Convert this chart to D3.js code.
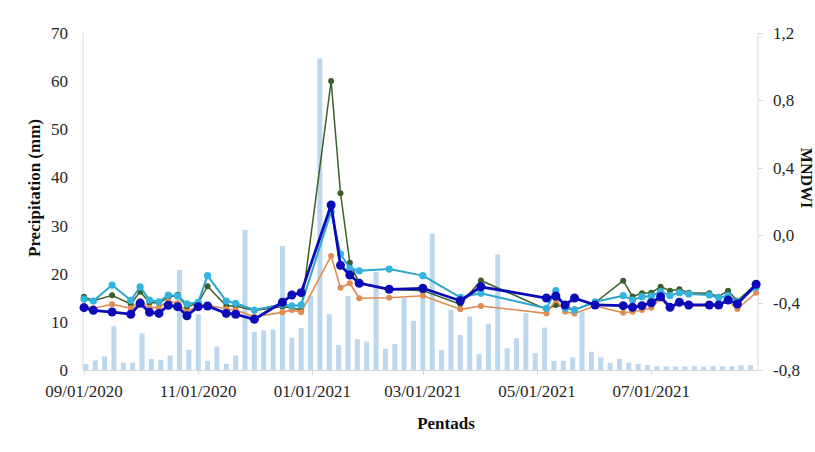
<!DOCTYPE html>
<html><head><meta charset="utf-8">
<script src="https://cdn.jsdelivr.net/npm/d3@7"></script>
<style>
html,body{margin:0;padding:0;background:#fff;overflow:hidden}
text{font-family:"Liberation Serif","Times New Roman",serif}
</style></head>
<body><svg id="c" width="815" height="452"></svg>
<script>
// ---- data ----
const precip = [1.3,2.0,2.8,9.1,1.5,1.5,7.6,2.3,2.1,3.0,20.8,4.2,11.6,1.9,4.9,1.3,3.0,29.1,7.9,8.2,8.4,25.8,6.7,8.7,
  15.4,64.7,11.6,5.2,15.4,6.4,5.9,20.4,4.4,5.4,15.0,10.2,17.0,28.3,4.2,12.5,7.3,11.1,3.3,9.6,24.0,4.5,6.6,11.8,
  3.5,8.8,1.9,1.9,2.6,12.0,3.8,2.6,1.5,2.3,1.5,1.3,1.0,0.8,0.7,0.7,0.7,0.8,0.7,0.8,0.8,0.8,1.0,1.0];
const pentadStart = "2020-09-01";
const lineDates = ["2020-09-01","2020-09-06","2020-09-16","2020-09-26","2020-10-01","2020-10-06","2020-10-11","2020-10-16","2020-10-21","2020-10-26",
  "2020-11-01","2020-11-06","2020-11-16","2020-11-21","2020-12-01","2020-12-16","2020-12-21","2020-12-26",
  "2021-01-11","2021-01-16","2021-01-21","2021-01-26","2021-02-11","2021-03-01","2021-03-21","2021-04-01",
  "2021-05-06","2021-05-11","2021-05-16","2021-05-21","2021-06-01","2021-06-16","2021-06-21","2021-06-26",
  "2021-07-01","2021-07-06","2021-07-11","2021-07-16","2021-07-21","2021-08-01","2021-08-06","2021-08-11","2021-08-16","2021-08-26"];
const seriesGreen = [-0.365,-0.389,-0.357,-0.408,-0.335,-0.399,-0.402,-0.370,-0.353,-0.426,
  -0.402,-0.303,-0.420,-0.420,-0.447,-0.423,-0.432,-0.444,
  0.915,0.249,-0.163,-0.285,-0.321,-0.329,-0.410,-0.269,
  -0.440,-0.414,-0.426,-0.440,-0.401,-0.270,-0.364,-0.345,
  -0.341,-0.306,-0.329,-0.321,-0.341,-0.345,-0.365,-0.329,-0.389,-0.290];
const seriesOrange = [-0.418,-0.434,-0.410,-0.434,-0.391,-0.430,-0.430,-0.391,-0.404,-0.454,
  -0.418,-0.414,-0.438,-0.444,-0.484,-0.458,-0.444,-0.458,
  -0.123,-0.312,-0.285,-0.374,-0.371,-0.359,-0.440,-0.420,
  -0.464,-0.385,-0.454,-0.464,-0.420,-0.460,-0.454,-0.444,
  -0.430,-0.375,-0.435,-0.405,-0.420,-0.420,-0.420,-0.390,-0.438,-0.341];
const seriesCyan = [-0.379,-0.391,-0.296,-0.386,-0.307,-0.385,-0.395,-0.355,-0.361,-0.408,
  -0.398,-0.240,-0.391,-0.404,-0.444,-0.410,-0.420,-0.414,
  0.139,-0.112,-0.196,-0.211,-0.201,-0.240,-0.369,-0.345,
  -0.434,-0.329,-0.434,-0.444,-0.395,-0.359,-0.385,-0.365,
  -0.361,-0.335,-0.359,-0.341,-0.349,-0.355,-0.371,-0.359,-0.395,-0.309];
const seriesBlue = [-0.430,-0.446,-0.456,-0.469,-0.404,-0.458,-0.464,-0.416,-0.424,-0.478,
  -0.424,-0.420,-0.464,-0.469,-0.499,-0.398,-0.355,-0.341,
  0.179,-0.179,-0.236,-0.285,-0.321,-0.315,-0.389,-0.306,
  -0.373,-0.361,-0.414,-0.373,-0.414,-0.418,-0.428,-0.418,
  -0.401,-0.365,-0.428,-0.398,-0.414,-0.414,-0.414,-0.385,-0.408,-0.291];
const xTickDates = ["2020-09-01","2020-11-01","2021-01-01","2021-03-01","2021-05-01","2021-07-01"];
const xTickLabels = ["09/01/2020","11/01/2020","01/01/2021","03/01/2021","05/01/2021","07/01/2021"];
const leftTicks = [0,10,20,30,40,50,60,70];
const rightTicks = [-0.8,-0.4,0,0.4,0.8,1.2];

// ---- chart ----
const parse = d3.timeParse("%Y-%m-%d");
const svg = d3.select("#c");
const L = 83, R = 758, T = 33, B = 370;
const x = d3.scaleTime().domain([parse("2020-09-01"), parse("2021-08-27")]).range([84, R]);
const yL = d3.scaleLinear().domain([0,70]).range([B,T]);
const yR = d3.scaleLinear().domain([-0.8,1.2]).range([B,T]);
const axisCol = "#d9d9d9", txtCol = "#262626";

// bars
const p0 = parse(pentadStart);
const pentads = precip.map((v,i)=>({d:d3.timeDay.offset(p0,5*i), v}));
svg.append("g").selectAll("rect").data(pentads).join("rect")
  .attr("x", d=>x(d3.timeDay.offset(d.d,1)) - 2.5)
  .attr("width", 5)
  .attr("y", d=>yL(d.v))
  .attr("height", d=>B - yL(d.v))
  .attr("fill", "#bdd7ee");

// axes lines
svg.append("line").attr("x1",L).attr("x2",L).attr("y1",T).attr("y2",B).attr("stroke",axisCol);
svg.append("line").attr("x1",R).attr("x2",R).attr("y1",T).attr("y2",B).attr("stroke",axisCol);
svg.append("line").attr("x1",L).attr("x2",R+4).attr("y1",B+0.5).attr("y2",B+0.5).attr("stroke",axisCol);

// bottom ticks
const xt = xTickDates.map(parse);
svg.append("g").selectAll("line").data(xt).join("line")
  .attr("x1",d=>Math.round(x(d))+0.5).attr("x2",d=>Math.round(x(d))+0.5)
  .attr("y1",B).attr("y2",B+5).attr("stroke",axisCol);
svg.append("g").selectAll("text").data(xt).join("text")
  .attr("x",d=>x(d)).attr("y",397).attr("text-anchor","middle")
  .attr("font-size",17).attr("fill",txtCol).text((d,i)=>xTickLabels[i]);

// left ticks labels
svg.append("g").selectAll("text").data(leftTicks).join("text")
  .attr("x",68).attr("y",d=>yL(d)+6).attr("text-anchor","end")
  .attr("font-size",17).attr("fill",txtCol).text(d=>d);

// right ticks
const fmtR = v => d3.format(".1f")(v).replace(".",",").replace("−","-");
svg.append("g").selectAll("line").data(rightTicks).join("line")
  .attr("x1",R).attr("x2",R+5).attr("y1",d=>Math.round(yR(d))+0.5).attr("y2",d=>Math.round(yR(d))+0.5)
  .attr("stroke",axisCol);
svg.append("g").selectAll("text").data(rightTicks).join("text")
  .attr("x",773).attr("y",d=>yR(d)+6).attr("text-anchor","start")
  .attr("font-size",17).attr("fill",txtCol).text(d=>fmtR(d));

// titles
svg.append("text").attr("transform","translate(40,188) rotate(-90)").attr("text-anchor","middle")
  .attr("font-size",17).attr("font-weight","bold").attr("fill","#111").text("Precipitation (mm)");
svg.append("text").attr("x",446).attr("y",429).attr("text-anchor","middle")
  .attr("font-size",17).attr("font-weight","bold").attr("fill","#111").text("Pentads");
svg.append("text").attr("transform","translate(801,178) rotate(90)").attr("text-anchor","middle")
  .attr("font-size",16).attr("font-weight","bold").attr("fill","#111").text("MNDWI");

// lines
const dates = lineDates.map(parse);
const line = d3.line().x(d=>x(d.d)).y(d=>yR(d.v));
function drawSeries(vals, stroke, width, markerFill, r){
  const data = vals.map((v,i)=>({d:dates[i], v}));
  const g = svg.append("g");
  g.append("path").datum(data).attr("d",line).attr("fill","none")
    .attr("stroke",stroke).attr("stroke-width",width).attr("stroke-linejoin","round");
  g.selectAll("circle").data(data).join("circle")
    .attr("cx",d=>x(d.d)).attr("cy",d=>yR(d.v)).attr("r",r).attr("fill",markerFill);
}
drawSeries(seriesGreen, "#3b5e2b", 1.5, "#3b5e2b", 3);
drawSeries(seriesOrange, "#e08c52", 1.6, "#e08c52", 3);
drawSeries(seriesCyan, "#2ea3cb", 2, "#33b4de", 3.6);
drawSeries(seriesBlue, "#0b0bb8", 2.8, "#0b0bb8", 4.5);
</script></body></html>
